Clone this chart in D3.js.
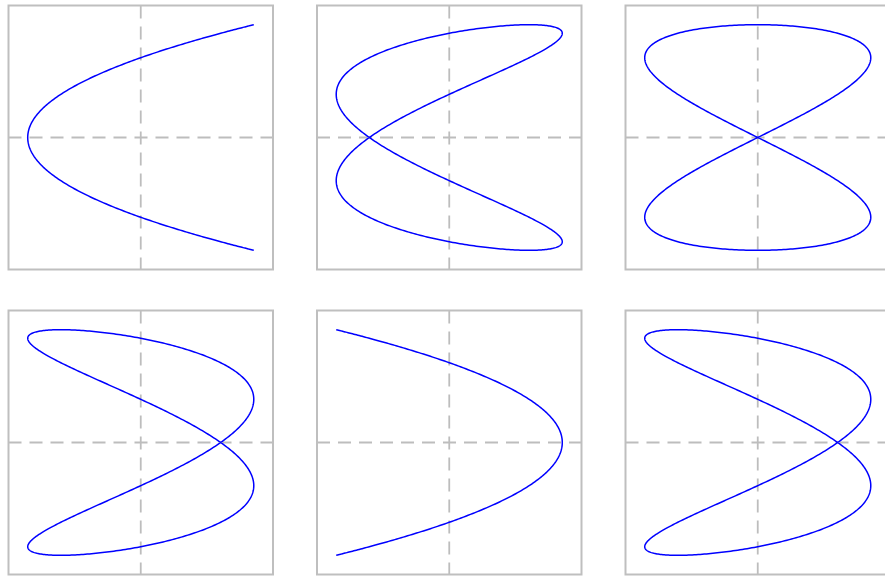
<!DOCTYPE html>
<html>
<head>
<meta charset="utf-8">
<script src="https://cdn.jsdelivr.net/npm/d3@7"></script>
<style>
  body { margin: 0; background: #fff; }
  svg { display: block; }
</style>
</head>
<body>
<svg id="chart"></svg>
<script>
// Lissajous figures: x = sin(freqX*t + phase), y = sin(freqY*t)
var freqX = 2
  , freqY = 1;
// phase of x for each panel, in degrees, row by row
var phases = [-90, -45, 0, 45, 90, 135];
var domainLim = 1.17;
var steps = 600;

var W = 885, H = 576
  , cols = 3
  , panelW = 264.5, panelH = 264
  , left0 = 8.5, top0 = 5.5
  , colStep = 308.5, rowStep = 305;

var svg = d3.select("#chart")
	.attr("width", W)
	.attr("height", H);

var x = d3.scaleLinear().domain([-domainLim, domainLim]).range([0, panelW]);
var y = d3.scaleLinear().domain([-domainLim, domainLim]).range([panelH, 0]);

var line = d3.line()
	.x(function(d){ return x(d[0]); })
	.y(function(d){ return y(d[1]); });

var ts = d3.range(steps + 1).map(function(i){ return i / steps * 2 * Math.PI; });

phases.forEach(function(ph, i){
	var col = i % cols, row = Math.floor(i / cols);
	var delta = ph * Math.PI / 180;
	var g = svg.append("g")
		.attr("transform", "translate(" + (left0 + col * colStep) + "," + (top0 + row * rowStep) + ")");

	// dashed zero lines
	g.append("line")
		.attr("x1", x(0)).attr("x2", x(0))
		.attr("y1", 0).attr("y2", panelH)
		.attr("stroke", "#bdbdbd").attr("stroke-width", 1.8)
		.attr("stroke-dasharray", "13,8");
	g.append("line")
		.attr("x1", 0).attr("x2", panelW)
		.attr("y1", y(0)).attr("y2", y(0))
		.attr("stroke", "#bdbdbd").attr("stroke-width", 1.8)
		.attr("stroke-dasharray", "13,8");

	var pts = ts.map(function(t){ return [Math.sin(freqX * t + delta), Math.sin(freqY * t)]; });
	g.append("path")
		.attr("d", line(pts))
		.attr("fill", "none")
		.attr("stroke", "#0000ff")
		.attr("stroke-width", 1.5);

	g.append("rect")
		.attr("width", panelW).attr("height", panelH)
		.attr("fill", "none")
		.attr("stroke", "#bfbfbf")
		.attr("stroke-width", 2);
});
</script>
</body>
</html>
